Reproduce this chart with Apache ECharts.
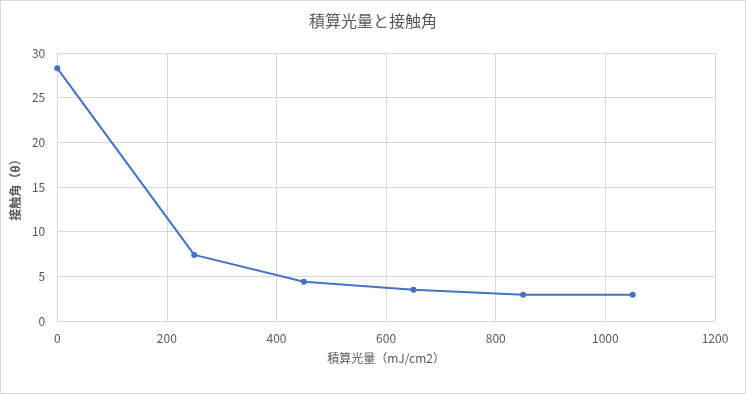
<!DOCTYPE html>
<html><head><meta charset="utf-8">
<script src="https://cdn.jsdelivr.net/npm/echarts@6/dist/echarts.min.js"></script>
<style>html,body{margin:0;padding:0;background:#fff}#c{width:746px;height:394px;box-sizing:border-box;border:1px solid #d9d9d9}</style>
</head><body><div id="c"></div>
<script>
const xValues = [0, 250, 450, 650, 850, 1050];
const yValues = [28.3, 7.4, 4.4, 3.5, 2.95, 2.95];
const titleText = '積算光量と接触角';
const xName = '積算光量（mJ/cm2）';
const yName = '接触角（θ）';
const font = '"Noto Sans CJK JP", "Noto Sans", sans-serif';
const chart = echarts.init(document.getElementById('c'));
chart.setOption({
  animation: false,
  title: { text: titleText, left: 'center', top: 7, textStyle: { fontFamily: font, fontSize: 16, fontWeight: 'normal', color: '#595959' } },
  grid: { left: 53, right: 30, top: 52, bottom: 72 },
  xAxis: {
    type: 'value', min: 0, max: 1200, interval: 200,
    name: xName, nameLocation: 'middle', nameGap: 31,
    nameTextStyle: { fontFamily: font, fontSize: 12, color: '#595959' },
    axisLine: { show: true, lineStyle: { color: '#d9d9d9' } },
    axisTick: { show: false },
    axisLabel: { fontFamily: font, fontSize: 12, color: '#595959', margin: 11, formatter: v => String(v) },
    splitLine: { show: true, lineStyle: { color: '#d9d9d9' } }
  },
  yAxis: {
    type: 'value', min: 0, max: 30, interval: 5,
    name: yName, nameLocation: 'middle', nameGap: 34,
    nameTextStyle: { fontFamily: font, fontSize: 12, color: '#595959', fontWeight: 'bold' },
    axisLine: { show: false },
    axisTick: { show: false },
    axisLabel: { fontFamily: font, fontSize: 12, color: '#595959', margin: 12 },
    splitLine: { show: true, lineStyle: { color: '#d9d9d9' } }
  },
  series: [{
    type: 'line',
    data: xValues.map((x, i) => [x, yValues[i]]),
    symbol: 'circle', symbolSize: 6,
    lineStyle: { color: '#4472C4', width: 2 },
    itemStyle: { color: '#4472C4' }
  }]
});
</script></body></html>
